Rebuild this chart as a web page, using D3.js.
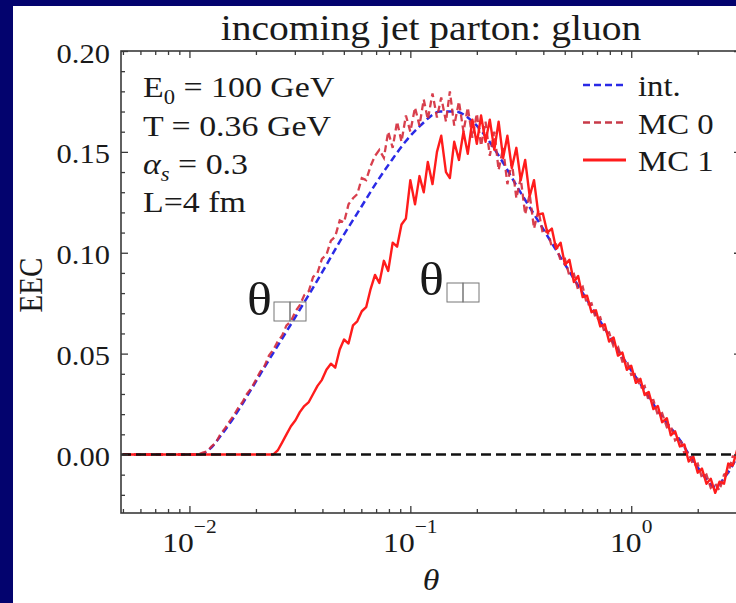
<!DOCTYPE html>
<html>
<head>
<meta charset="utf-8">
<script src="https://cdn.jsdelivr.net/npm/d3@7"></script>
<style>
  html, body { margin: 0; padding: 0; background: #03036e; }
  svg { display: block; }
  text { font-family: "Liberation Serif", "Times New Roman", serif; fill: #1a1a1a; }
</style>
</head>
<body>
<svg id="chart" width="736" height="603"></svg>
<script>
// Angular grid shared by the two Monte-Carlo samples
const theta = [
  0.005, 0.006, 0.007, 0.008, 0.009,
  0.0100, 0.0105, 0.0110, 0.0115, 0.0120, 0.0126, 0.0132, 0.0138, 0.0145, 0.0151,
  0.0158, 0.0166, 0.0174, 0.0182, 0.0191, 0.0200, 0.0209, 0.0219, 0.0229, 0.0240,
  0.0251, 0.0263, 0.0275, 0.0288, 0.0302, 0.0316, 0.0331, 0.0347, 0.0363, 0.0380,
  0.0398, 0.0417, 0.0437, 0.0457, 0.0479, 0.0501, 0.0525, 0.0550, 0.0575, 0.0603,
  0.0631, 0.0661, 0.0692, 0.0724, 0.0759, 0.0794, 0.0832, 0.0871, 0.0912, 0.0955,
  0.100, 0.105, 0.110, 0.115, 0.120, 0.126, 0.132, 0.138, 0.145, 0.151,
  0.158, 0.166, 0.174, 0.182, 0.191, 0.200, 0.209, 0.219, 0.229, 0.240,
  0.251, 0.263, 0.275, 0.288, 0.302, 0.316, 0.331, 0.347, 0.363, 0.380,
  0.398, 0.417, 0.437, 0.457, 0.479, 0.501, 0.525, 0.550, 0.575, 0.603,
  0.631, 0.661, 0.692, 0.724, 0.759, 0.794, 0.832, 0.871, 0.912, 0.955,
  1.00, 1.05, 1.10, 1.15, 1.20, 1.26, 1.32, 1.38, 1.45, 1.51,
  1.58, 1.66, 1.74, 1.82, 1.91, 2.00, 2.09, 2.19, 2.29, 2.40,
  2.51, 2.63, 2.75, 2.88, 3.02, 3.14
];

// MC 0 (dashed red)
const eecMC0 = [
  0, 0, 0, 0, 0,
  0, 0, 0, 0.001, 0.0015, 0.004, 0.006, 0.010, 0.013, 0.016,
  0.019, 0.023, 0.026, 0.030, 0.033, 0.037, 0.041, 0.044, 0.049, 0.052,
  0.056, 0.059, 0.064, 0.066, 0.071, 0.074, 0.079, 0.081, 0.088, 0.090,
  0.097, 0.099, 0.106, 0.108, 0.116, 0.115, 0.124, 0.127, 0.129, 0.137,
  0.136, 0.143, 0.148, 0.151, 0.147, 0.160, 0.152, 0.165, 0.155, 0.168,
  0.160, 0.172, 0.163, 0.176, 0.166, 0.179, 0.167, 0.177, 0.165, 0.180,
  0.163, 0.175, 0.160, 0.172, 0.157, 0.169, 0.153, 0.165, 0.148, 0.160,
  0.141, 0.152, 0.134, 0.145, 0.127, 0.137, 0.119, 0.129, 0.112, 0.121,
  0.1095, 0.111, 0.103, 0.104, 0.096, 0.097, 0.0885, 0.0895, 0.0815, 0.0832,
  0.0742, 0.075, 0.067, 0.068, 0.060, 0.0605, 0.0535, 0.0535, 0.046, 0.0465,
  0.0395, 0.040, 0.033, 0.034, 0.0265, 0.027, 0.0195, 0.0205, 0.0135, 0.014,
  0.007, 0.0085, 0.0005, 0.001, -0.0055, -0.0045, -0.0115, -0.010, -0.0165, -0.0145,
  -0.0178, -0.010, -0.009, -0.001, -0.001, 0.003
];

// MC 1 (solid red)
const eecMC1 = [
  0, 0, 0, 0, 0,
  0, 0, 0, 0, 0, 0, 0, 0, 0, 0,
  0, 0, 0, 0, 0, 0, 0, 0, 0, 0,
  0.002, 0.006, 0.010, 0.014, 0.017, 0.021, 0.024, 0.026, 0.030, 0.034,
  0.037, 0.042, 0.045, 0.043, 0.052, 0.057, 0.055, 0.064, 0.066, 0.071,
  0.073, 0.082, 0.089, 0.085, 0.096, 0.091, 0.105, 0.103, 0.114, 0.117,
  0.136, 0.124, 0.138, 0.130, 0.145, 0.134, 0.150, 0.158, 0.140, 0.137,
  0.155, 0.146, 0.160, 0.149, 0.166, 0.154, 0.168, 0.155, 0.166, 0.151,
  0.165, 0.147, 0.158, 0.142, 0.152, 0.136, 0.146, 0.128, 0.136, 0.119,
  0.1195, 0.110, 0.112, 0.102, 0.105, 0.094, 0.0965, 0.0855, 0.0885, 0.078,
  0.0787, 0.0705, 0.0715, 0.0635, 0.0645, 0.056, 0.058, 0.049, 0.0505, 0.042,
  0.044, 0.0355, 0.0375, 0.0295, 0.031, 0.0225, 0.024, 0.016, 0.018, 0.0095,
  0.0115, 0.004, 0.005, -0.0035, -0.001, -0.009, -0.007, -0.0145, -0.012, -0.019,
  -0.0135, -0.0145, -0.0045, -0.0055, 0.0025, 0.003
];

// Analytic ("int.") curve, blue dashed
const intTheta = [0.005, 0.0112, 0.01245, 0.0138, 0.0158, 0.0185, 0.0218, 0.0258, 0.0342, 0.0412,
  0.0482, 0.0594, 0.0695, 0.0813, 0.0949, 0.111, 0.137, 0.160, 0.187, 0.218,
  0.255, 0.315, 0.388, 0.477, 0.588, 0.724, 0.892, 1.099, 1.352, 1.666,
  1.849, 2.052, 2.399, 2.662, 3.02, 3.14];
const eecInt = [0, 0, 0.003, 0.009, 0.018, 0.030, 0.043, 0.056, 0.078, 0.093,
  0.106, 0.122, 0.134, 0.145, 0.155, 0.163, 0.170, 0.170, 0.166, 0.158,
  0.147, 0.130, 0.114, 0.098, 0.082, 0.066, 0.050, 0.035, 0.020, 0.007,
  -0.001, -0.008, -0.016, -0.011, -0.001, 0.003];

const yTicks = [0.00, 0.05, 0.10, 0.15, 0.20];
const xTickExponents = [-2, -1, 0];
const legendLabels = ["int.", "MC 0", "MC 1"];
const titleText = "incoming jet parton: gluon";

const SX = 1.13; // horizontal text stretch of the figure
const svg = d3.select("#chart");

// white figure panel
svg.append("rect").attr("x", 13).attr("y", 6).attr("width", 740).attr("height", 610).attr("fill", "#ffffff");

const L = 121, R = 741, T = 51, B = 513;
const x = d3.scaleLog().domain([0.0049, 3.14]).range([L, R]);
const y = d3.scaleLinear().domain([-0.029, 0.20]).range([B, T]);

function txt(parent, px, py, anchor, size) {
  return parent.append("text")
    .attr("transform", `translate(${px},${py}) scale(${SX},1)`)
    .attr("text-anchor", anchor)
    .style("font-size", size + "px");
}

svg.append("clipPath").attr("id", "plotclip")
  .append("rect").attr("x", L).attr("y", T).attr("width", R - L).attr("height", B - T);
const plot = svg.append("g").attr("clip-path", "url(#plotclip)");

const lineMC = d3.line().x((d, i) => x(theta[i])).y(d => y(d));
const lineInt = d3.line().x((d, i) => x(intTheta[i])).y(d => y(d)).curve(d3.curveMonotoneX);

plot.append("path").datum(eecInt).attr("d", lineInt)
  .attr("fill", "none").attr("stroke", "#2a2ae6").attr("stroke-width", 2.5)
  .attr("stroke-dasharray", "7,4");
plot.append("path").datum(eecMC0).attr("d", lineMC)
  .attr("fill", "none").attr("stroke", "#d42a3a").attr("stroke-width", 2.3)
  .attr("stroke-opacity", 0.9).attr("stroke-dasharray", "7,4");
plot.append("path").datum(eecMC1).attr("d", lineMC)
  .attr("fill", "none").attr("stroke", "#ff1c1c").attr("stroke-width", 2.4)
  .attr("stroke-linejoin", "round");

// zero reference line
plot.append("line").attr("x1", L).attr("x2", R).attr("y1", y(0)).attr("y2", y(0))
  .attr("stroke", "#111").attr("stroke-width", 2.4).attr("stroke-dasharray", "10,5");

// axes with inward ticks
const majorX = xTickExponents.map(e => Math.pow(10, e));
const minorX = x.ticks().filter(v => !majorX.some(m => Math.abs(m - v) < 1e-12));
const majorY = yTicks;
const minorY = d3.range(-2, 20).map(v => v / 100).filter(v => !majorY.some(m => Math.abs(m - v) < 1e-9));

function styleAxis(g) {
  g.selectAll(".domain").remove();
  g.selectAll("line").attr("stroke", "#3a3a3a").attr("stroke-width", 1.3);
  g.selectAll("text").remove();
}
const axes = svg.append("g");
[[d3.axisBottom, B, minorX, -4], [d3.axisBottom, B, majorX, -7], [d3.axisTop, T, minorX, -4], [d3.axisTop, T, majorX, -7]]
  .forEach(([fn, pos, vals, size]) => {
    axes.append("g").attr("transform", `translate(0,${pos})`)
      .call(fn(x).tickValues(vals).tickSize(size).tickFormat("")).call(styleAxis);
  });
[[d3.axisLeft, L, minorY, -4], [d3.axisLeft, L, majorY, -7], [d3.axisRight, R, minorY, -4], [d3.axisRight, R, majorY, -7]]
  .forEach(([fn, pos, vals, size]) => {
    axes.append("g").attr("transform", `translate(${pos},0)`)
      .call(fn(y).tickValues(vals).tickSize(size).tickFormat("")).call(styleAxis);
  });
axes.append("rect").attr("x", L).attr("y", T).attr("width", R - L).attr("height", B - T)
  .attr("fill", "none").attr("stroke", "#3a3a3a").attr("stroke-width", 1.6);

// tick labels
yTicks.forEach(v => { txt(svg, 110, y(v) + 11.5, "end", 27).text(v.toFixed(2)); });
xTickExponents.forEach(e => {
  const t = txt(svg, x(Math.pow(10, e)), 552, "middle", 28);
  t.append("tspan").text("10");
  t.append("tspan").attr("dy", -19).style("font-size", "19px").text(e < 0 ? "\u2212" + (-e) : String(e));
});

// axis titles
txt(svg, 431, 590, "middle", 30).style("font-style", "italic").text("\u03b8");
svg.append("text").attr("transform", `translate(42,285) rotate(-90) scale(1,${SX})`)
  .attr("text-anchor", "middle").style("font-size", "29px").text("EEC");
txt(svg, 431, 40, "middle", 35).text(titleText);

// parameter block
const info = svg.append("g");
let t1 = txt(info, 143, 97, "start", 30);
t1.append("tspan").text("E");
t1.append("tspan").attr("dy", 7).style("font-size", "20px").text("0");
t1.append("tspan").attr("dy", -7).text(" = 100 GeV");
txt(info, 143, 136, "start", 30).text("T = 0.36 GeV");
let t3 = txt(info, 143, 174, "start", 30);
t3.append("tspan").style("font-style", "italic").text("\u03b1");
t3.append("tspan").attr("dy", 7).style("font-size", "20px").style("font-style", "italic").text("s");
t3.append("tspan").attr("dy", -7).text(" = 0.3");
txt(info, 143, 212, "start", 30).text("L=4 fm");

// legend
const legendStyles = [
  { color: "#2a2ae6", dash: "7,4", width: 2.5 },
  { color: "#c83a48", dash: "7,4", width: 2.5 },
  { color: "#ff1c1c", dash: null, width: 3 }
];
legendLabels.forEach((lab, i) => {
  const ly = 85 + i * 37.5;
  const s = legendStyles[i];
  const ln = svg.append("line").attr("x1", 583).attr("x2", 626).attr("y1", ly).attr("y2", ly)
    .attr("stroke", s.color).attr("stroke-width", s.width);
  if (s.dash) ln.attr("stroke-dasharray", s.dash);
  txt(svg, 638, ly + 11, "start", 29).text(lab);
});

// angle markers in the plot (subscripts rendered as empty glyph boxes)
function thetaMark(px, py, bx, by) {
  txt(svg, px, py, "start", 46).text("\u03b8");
  [0, 16].forEach(dx => {
    svg.append("rect").attr("x", bx + dx).attr("y", by).attr("width", 16).attr("height", 19)
      .attr("fill", "none").attr("stroke", "#777").attr("stroke-width", 1);
  });
}
thetaMark(247, 315, 274, 302);
thetaMark(419, 295, 447, 283);
</script>
</body>
</html>
